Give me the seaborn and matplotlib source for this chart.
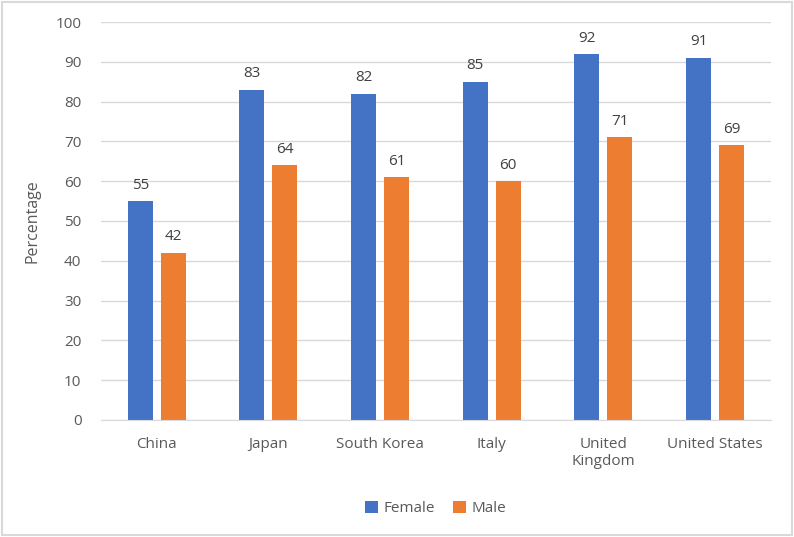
import pandas as pd
import seaborn as sns
import matplotlib.pyplot as plt
from matplotlib.patches import Rectangle

# Data
countries = ["China", "Japan", "South Korea", "Italy", "United\nKingdom", "United States"]
female = [55, 83, 82, 85, 92, 91]
male = [42, 64, 61, 60, 71, 69]

df = pd.DataFrame({
    "Country": countries * 2,
    "Sex": ["Female"] * len(countries) + ["Male"] * len(countries),
    "Value": female + male,
})

sns.set_style("white")
plt.rcParams["font.family"] = ["Open Sans", "DejaVu Sans"]
text_color = "#595959"

fig = plt.figure(figsize=(7.94, 5.37), dpi=100)
ax = fig.add_axes([0.127, 0.218, 0.844, 0.741])

sns.barplot(data=df, x="Country", y="Value", hue="Sex", order=countries,
            palette={"Female": "#4472C4", "Male": "#ED7D31"},
            width=0.59, gap=0.24, saturation=1, linewidth=0, ax=ax, legend=True)

ax.set_ylim(0, 100)
ax.set_yticks(range(0, 101, 10))
ax.yaxis.grid(True, color="#D9D9D9", linewidth=1)
ax.set_axisbelow(True)
for s in ["top", "right", "left"]:
    ax.spines[s].set_visible(False)
ax.spines["bottom"].set_color("#D9D9D9")
ax.tick_params(axis="both", length=0, labelsize=11, labelcolor=text_color)
ax.tick_params(axis="x", pad=12)
ax.tick_params(axis="y", pad=14)
ax.set_xlabel("")
ax.set_ylabel("Percentage", fontsize=11.5, color=text_color, labelpad=11)

for cont in ax.containers:
    ax.bar_label(cont, padding=6, fontsize=11, color="#404040")

handles, labels = ax.get_legend_handles_labels()
ax.legend(handles, labels, loc="upper center", bbox_to_anchor=(0.5, -0.17), ncol=2,
          frameon=False, fontsize=11, handlelength=0.8, handleheight=0.8,
          columnspacing=1.2, handletextpad=0.4, labelcolor=text_color)

fig.patches.append(Rectangle((0.002, 0.003), 0.996, 0.994, transform=fig.transFigure,
                             fill=False, edgecolor="#D9D9D9", linewidth=1.5))

fig.savefig("out.png", dpi=100)
